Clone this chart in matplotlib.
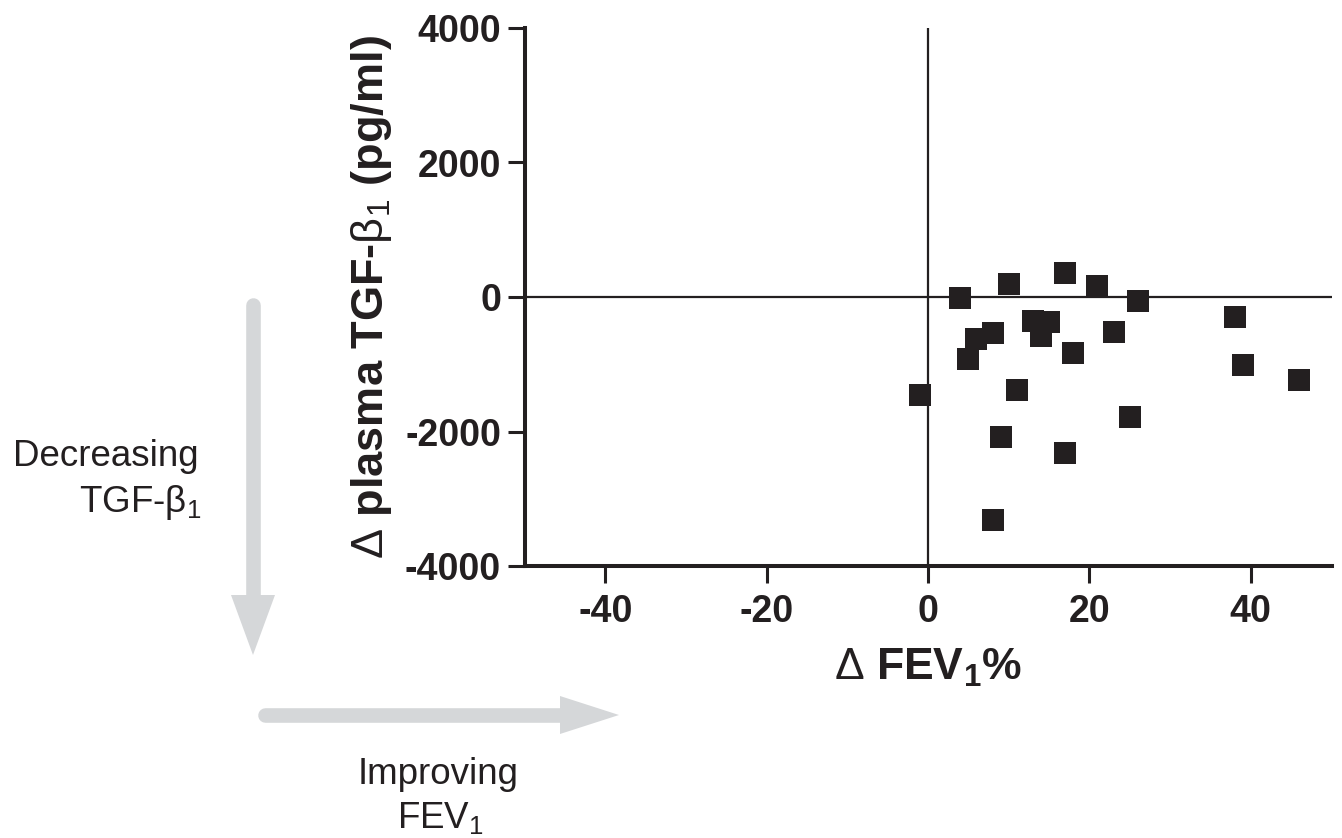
import matplotlib
matplotlib.use('Agg')
import matplotlib.pyplot as plt
import numpy as np

plt.rcParams['font.family'] = ['Liberation Sans', 'DejaVu Sans']
plt.rcParams['mathtext.fontset'] = 'custom'
plt.rcParams['mathtext.rm'] = 'Liberation Sans'
plt.rcParams['mathtext.bf'] = 'Liberation Sans:bold'
plt.rcParams['mathtext.it'] = 'Liberation Sans:italic'

# delta FEV1 % vs delta plasma TGF-beta1 (pg/ml)
fev1_change = [4, 10, 17, 21, 26, 38, 8, 6, 5, 13, 15, 14, 23, 18, 39, 46, -1, 11, 25, 9, 17, 8]
tgf_change = [-20, 190, 360, 170, -60, -290, -530, -630, -920, -350, -370, -580,
              -520, -830, -1010, -1240, -1450, -1390, -1790, -2080, -2320, -3310]

xticks = [-40, -20, 0, 20, 40]
yticks = [-4000, -2000, 0, 2000, 4000]

ink = '#231f20'
arrow_grey = '#d5d7d9'

fig = plt.figure(figsize=(13.42, 8.38), dpi=100)

# overlay in pixel coordinates for the arrows and side notes
over = fig.add_axes([0, 0, 1, 1])
over.set_xlim(0, 1342)
over.set_ylim(838, 0)
over.axis('off')

# vertical arrow (decreasing TGF-b1)
over.plot([253, 253], [305, 600], color=arrow_grey, lw=10.5, solid_capstyle='round')
over.add_patch(plt.Polygon([[231, 595], [275, 595], [253, 655]], closed=True, color=arrow_grey, lw=0))
# horizontal arrow (improving FEV1)
over.plot([265, 565], [715, 715], color=arrow_grey, lw=10.5, solid_capstyle='round')
over.add_patch(plt.Polygon([[560, 696], [560, 734], [619, 715]], closed=True, color=arrow_grey, lw=0))

over.text(106, 456, 'Decreasing', fontsize=26.5, ha='center', va='center', color=ink)
over.text(140, 502, r'TGF-$\mathrm{\beta}_1$', fontsize=26.5, ha='center', va='center', color=ink)
over.text(438, 774, 'Improving', fontsize=26.5, ha='center', va='center', color=ink)
over.text(440, 818, r'FEV$_1$', fontsize=26.5, ha='center', va='center', color=ink)

ax = fig.add_axes([524.5 / 1342, 1 - 566 / 838, 807 / 1342, 538 / 838])
ax.scatter(fev1_change, tgf_change, marker='s', s=250, color=ink, linewidths=0, zorder=3)
ax.axhline(0, color=ink, lw=1.6, zorder=2)
ax.axvline(0, color=ink, lw=1.6, zorder=2)

ax.set_xlim(-50, 50)
ax.set_ylim(-4000, 4000)
ax.set_xticks(xticks)
ax.set_yticks(yticks)
ax.set_xticklabels([str(t) for t in xticks], fontsize=27, fontweight='bold', color=ink)
ax.set_yticklabels([str(t) for t in yticks], fontsize=27, fontweight='bold', color=ink)

for side in ['top', 'right']:
    ax.spines[side].set_visible(False)
for side in ['left', 'bottom']:
    ax.spines[side].set_linewidth(2.9)
    ax.spines[side].set_color(ink)
ax.tick_params(axis='both', length=12, width=2.2, color=ink)
ax.tick_params(axis='x', pad=8)
ax.tick_params(axis='y', pad=5)
ax.patch.set_alpha(0)

ax.set_xlabel(r'$\Delta$ FEV$_\mathbf{1}$%', fontsize=32, fontweight='bold', color=ink, labelpad=12)
ax.set_ylabel(r'$\Delta$ plasma TGF-$\mathrm{\beta_1}$ (pg/ml)', fontsize=32.5, fontweight='bold',
              color=ink, labelpad=8)

fig.savefig('out.png', dpi=100)
